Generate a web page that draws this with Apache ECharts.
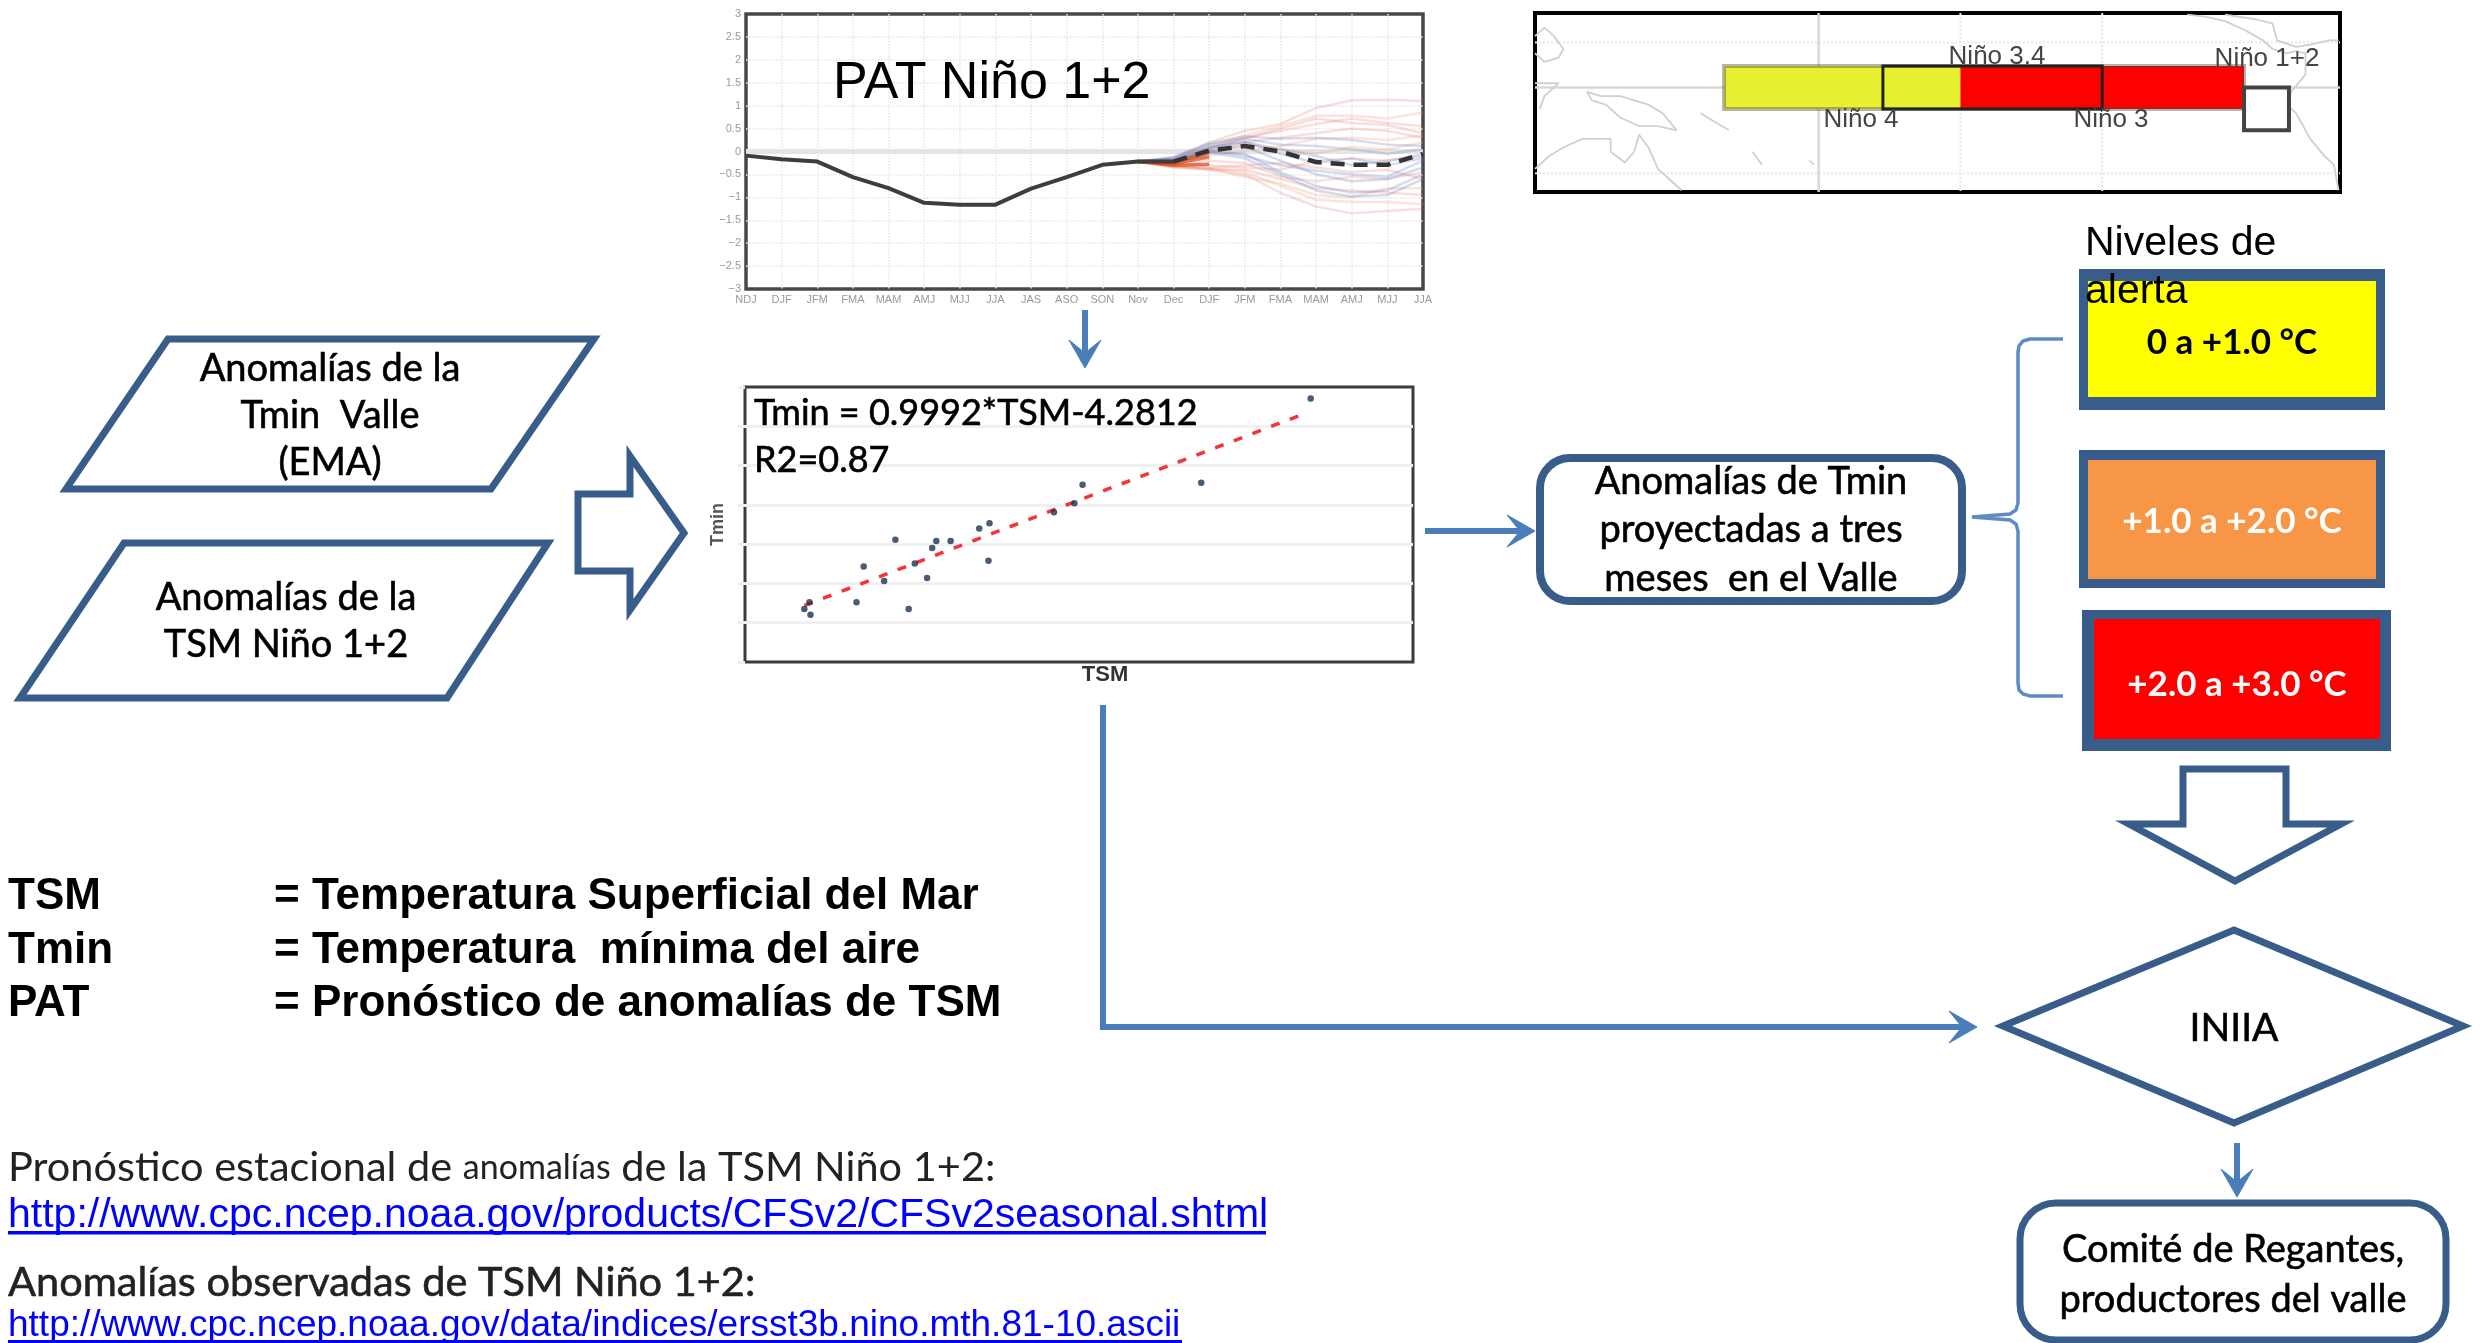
<!DOCTYPE html>
<html>
<head>
<meta charset="utf-8">
<style>html,body{margin:0;padding:0;background:#fff}#c{width:2484px;height:1343px}</style>
<script src="https://cdn.jsdelivr.net/npm/echarts@6/dist/echarts.min.js"></script>
</head>
<body>
<div id="c"></div>
<script>
// --- PAT Niño 1+2 panel ---
const seasons = ['NDJ','DJF','JFM','FMA','MAM','AMJ','MJJ','JJA','JAS','ASO','SON','Nov','Dec','DJF','JFM','FMA','MAM','AMJ','MJJ','JJA'];
const observed = [-0.09,-0.17,-0.22,-0.56,-0.8,-1.12,-1.16,-1.16,-0.81,-0.56,-0.29,-0.22,-0.22];
const forecastMean = [-0.22,0.02,0.12,0,-0.23,-0.29,-0.29,-0.05];
const ensembleRed = [
 [-0.22,-0.15,0.2,0.45,0.6,0.95,1.12,1.13,1.1],
 [-0.22,-0.18,0.12,0.35,0.55,0.78,0.78,0.72,0.85],
 [-0.22,-0.2,0.08,0.3,0.45,0.6,0.72,0.62,0.55],
 [-0.22,-0.25,-0.05,0.2,0.3,0.4,0.5,0.45,0.3],
 [-0.22,-0.27,-0.1,0.02,0.12,0.28,0.3,0.25,0.35],
 [-0.22,-0.3,-0.3,-0.35,-0.4,-0.2,-0.15,-0.2,-0.05],
 [-0.22,-0.32,-0.4,-0.4,-0.6,-0.8,-0.85,-0.9,-0.95],
 [-0.22,-0.3,-0.35,-0.45,-0.75,-1.05,-1.1,-1.1,-1.15],
 [-0.22,-0.35,-0.38,-0.5,-0.9,-1.2,-1.35,-1.3,-1.25],
 [-0.22,-0.22,0.05,0.28,0.5,0.72,0.62,0.58,0.4],
 [-0.22,-0.24,0,0.15,0.05,-0.05,0.1,0.05,0.2],
 [-0.22,-0.28,-0.2,-0.25,-0.55,-0.65,-0.55,-0.6,-0.45],
 [-0.22,-0.32,-0.36,-0.3,-0.25,-0.35,-0.45,-0.4,-0.6],
 [-0.22,-0.34,-0.38,-0.55,-0.7,-0.95,-1.0,-0.8,-0.8]
];
const ensembleBlue = [
 [-0.22,-0.12,0.18,0.33,0.28,0.3,0.25,0.15,0.12],
 [-0.22,-0.15,0.1,0.2,0.05,-0.1,-0.3,-0.2,-0.1],
 [-0.22,-0.18,0.05,0.1,-0.2,-0.5,-0.65,-0.6,-0.35],
 [-0.22,-0.2,0,-0.05,-0.45,-0.75,-0.9,-0.85,-0.5],
 [-0.22,-0.22,0.02,-0.1,-0.3,-0.42,-0.5,-0.55,-0.2],
 [-0.22,-0.14,0.15,0.28,0.15,0.12,0.05,-0.05,0.05],
 [-0.22,-0.2,0.08,0.22,-0.05,-0.25,-0.15,-0.3,-0.15],
 [-0.22,-0.25,-0.02,-0.15,-0.5,-0.85,-0.98,-0.95,-0.6]
];
const ensembleEarly = [[-0.22,-0.26,-0.12],[-0.22,-0.3,-0.28],[-0.22,-0.23,-0.03]];
// --- Regression panel ---
const tsmValues  = [7.67,6.60,5.44,5.36,5.16,4.53,4.43,4.15,4.01,3.97,3.61,3.80,4.52,3.30,3.92,3.50,3.23,3.74,2.77,2.72,2.78];
const tminValues = [3.71,1.56,1.51,1.04,0.81,0.53,0.40,0.08,0.08,-0.10,0.11,-0.49,-0.42,-0.57,-0.86,-0.94,-1.48,-1.65,-1.48,-1.65,-1.80];
const fitSlope = 0.9992, fitIntercept = -4.2812, fitRange = [2.72,7.6];
// --- Niño regions map ---
const regionBounds = [[160,210,5,-5],[210,270,5,-5],[160,270,5,-5],[193.6,240,5,-5],[270,279.5,0,-10]];
const regionLabels = ['Niño 4','Niño 3','','Niño 3.4','Niño 1+2'];
const coastlines = [
 [[120,-19],[123,-16],[126,-14],[130,-12],[132,-12],[136,-12],[136,-15],[139,-17.5],[141,-15],[142,-11],[144,-14],[146,-19],[149,-22],[151,-24]],
 [[131,-1],[134,-2],[138,-2],[144,-4],[147,-6],[150,-10],[146,-9],[142,-9],[138,-7],[135,-4],[132,-3],[131,-1]],
 [[120,8],[122,6],[125,7],[126,9],[124,12],[122,14],[120,12]],
 [[120,1],[123,1],[125,1],[122,-2],[121,-5]],
 [[155,-6],[158,-8],[161,-10]],[[166,-15],[168,-18]],[[178,-17],[179,-18]],
 [[258,17],[262,16.5],[266,15.5],[270,13.5],[274,11],[276,9],[279,8],[281,8.5],[283,8],[283,3],[280,-1],[279,-4],[281,-6],[284,-12],[287,-16],[289,-18],[290,-24]],
 [[266,17],[272,16],[276,15],[277,11],[281,9.5],[284,10],[288,11],[290,11]]
];
const mapGuides = [[[180,17.4],[180,-24.4]],[[120,0],[290.3,0]]];
const mapDotted = [[[120,10.5],[290.3,10.5]],[[120,-20],[290.3,-20]],[[210,17.4],[210,-24.4]],[[240,17.4],[240,-24.4]]];
// --- Texts ---
const levels = ['0 a +1.0 °C','+1.0 a +2.0 °C','+2.0 a +3.0 °C'];
const glossaryTerms = ['TSM','Tmin','PAT'];
const glossaryMeanings = ['= Temperatura Superficial del Mar','= Temperatura  mínima del aire','= Pronóstico de anomalías de TSM'];
const link1 = 'http://www.cpc.ncep.noaa.gov/products/CFSv2/CFSv2seasonal.shtml';
const link2 = 'http://www.cpc.ncep.noaa.gov/data/indices/ersst3b.nino.mth.81-10.ascii';

const BLUE='#385d8a', ARROW='#4a7ebb', CAL='Lato', ARIAL='"Liberation Sans"';
const g=[];
const T=(x,y,text,fontSize,o={})=>{const f=o.color||'#000';const st={text,fontSize,fontFamily:o.family||CAL,fontWeight:o.weight||'normal',fill:f,align:o.align||'center',verticalAlign:'middle'};
  if(!o.family&&!o.weight){st.stroke=f;st.lineWidth=0.6;}
  g.push({type:'text',x,y,z:20,style:st});};
const poly=(pts,fill,stroke,w)=>g.push({type:'polygon',z:5,shape:{points:pts},style:{fill:fill||'#fff',stroke:stroke||BLUE,lineWidth:w||7,lineJoin:'miter'}});
const rect=(x0,y0,x1,y1,fill,r)=>g.push({type:'rect',z:5,shape:{x:x0,y:y0,width:x1-x0,height:y1-y0,r:r||0},style:{fill}});
const arrow=(x1,y1,x2,y2)=>{
  const dx=Math.sign(x2-x1),dy=Math.sign(y2-y1),L=28,W=16,N=15;
  g.push({type:'line',z:6,shape:{x1,y1,x2:x2-dx*N,y2:y2-dy*N},style:{stroke:ARROW,lineWidth:6}});
  poly([[x2,y2],[x2-dx*L-dy*W,y2-dy*L-dx*W],[x2-dx*N,y2-dy*N],[x2-dx*L+dy*W,y2-dy*L+dx*W]],ARROW,ARROW,1);
};
// parallelograms + big arrows
poly([[168,339],[594,339],[491,489],[66,489]]);
poly([[124,543],[548,543],[447,698],[20,698]]);
poly([[578,494],[630,494],[630,456],[684,533],[630,610],[630,571],[578,571]]);
poly([[2183,769],[2286,769],[2286,824],[2341,824],[2235,881],[2129,824],[2183,824]]);
T(330,369,'Anomalías de la',38);T(330,416,'Tmin  Valle',38);T(330,463,'(EMA)',38);
T(286,598,'Anomalías de la',38);T(286,645,'TSM Niño 1+2',38);
// title over plot
T(833,84,'PAT Niño 1+2',52,{align:'left',family:ARIAL});
T(754,413,'Tmin = 0.9992*TSM-4.2812',36,{align:'left'});
T(754,460,'R2=0.87',36,{align:'left'});
T(1105,675,'TSM',22,{family:ARIAL,weight:'bold',color:'#333'});
// arrows
arrow(1085,310,1085,368);
arrow(1425,531,1535,531);
arrow(2237,1143,2237,1197);
g.push({type:'polyline',z:6,shape:{points:[[1103,705],[1103,1027],[1960,1027]]},style:{stroke:ARROW,lineWidth:6,fill:'none'}});
arrow(1945,1027,1977,1027);
// central rounded box
g.push({type:'rect',z:5,shape:{x:1540,y:458,width:422,height:143,r:30},style:{fill:'#fff',stroke:BLUE,lineWidth:8}});
T(1751,482,'Anomalías de Tmin',38);T(1751,530,'proyectadas a tres',38);T(1751,579,'meses  en el Valle',38);
// brace
g.push({type:'polyline',z:5,shape:{points:[[2063,339],[2030,339],[2023,341],[2019,346],[2018,352],[2018,503],[2016,510],[2010,514],[1972,517],[2010,520],[2016,524],[2018,531],[2018,683],[2019,690],[2023,694],[2030,696],[2063,696]]},style:{fill:'none',stroke:'#5f8bc4',lineWidth:3.5}});
// level boxes
const levelBoxes=[[2079,269,2385,410,2088,281,2376,397,'#ffff00','#000',343],[2079,450,2385,588,2088,460,2376,579,'#f79646','#fff',522],[2082,610,2391,751,2094,619,2380,739,'#ff0000','#fff',685]];
levelBoxes.forEach((b,i)=>{rect(b[0],b[1],b[2],b[3],BLUE);rect(b[4],b[5],b[6],b[7],b[8]);T((b[4]+b[6])/2,b[10],levels[i],35,{weight:'bold',color:b[9]});});
T(2085,244,'Niveles de',41,{align:'left',family:ARIAL});
T(2085,292,'alerta',41,{align:'left',family:ARIAL});
// diamond
poly([[2234,930],[2463,1026],[2234,1123],[2003,1026]],'#fff',BLUE,7);
T(2234,1028,'INIIA',39);
// bottom box
g.push({type:'rect',z:5,shape:{x:2020,y:1203,width:426,height:137,r:36},style:{fill:'#fff',stroke:BLUE,lineWidth:7}});
T(2233,1250,'Comité de Regantes,',38);T(2233,1300,'productores del valle',38);
// glossary
glossaryTerms.forEach((t,i)=>{const y=[897,951,1004][i];T(8,y,t,44,{align:'left',family:ARIAL,weight:'bold'});T(274,y,glossaryMeanings[i],44,{align:'left',family:ARIAL,weight:'bold'});});
// sources
g.push({type:'text',x:8,y:1168,z:20,style:{text:'{a|Pronóstico estacional de }{b|anomalías}{a| de la TSM Niño 1+2:}',verticalAlign:'middle',align:'left',rich:{a:{fontSize:41.5,fontFamily:CAL,fill:'#222'},b:{fontSize:34,fontFamily:CAL,fill:'#222'}}}});
T(8,1216,link1,41,{align:'left',family:ARIAL,color:'#0000ff'});
g.push({type:'rect',z:20,shape:{x:8,y:1231,width:1258,height:3.5},style:{fill:'#0000ff'}});
T(8,1283,'Anomalías observadas de TSM Niño 1+2:',41.5,{align:'left',color:'#222'});
T(8,1326,link2,37,{align:'left',family:ARIAL,color:'#0000ff'});
g.push({type:'rect',z:20,shape:{x:8,y:1340,width:1174,height:3},style:{fill:'#0000ff'}});
// map labels
T(1997,57,'Niño 3.4',26,{family:ARIAL,color:'#444'});
T(2267,59,'Niño 1+2',26,{family:ARIAL,color:'#444'});
T(1861,120,regionLabels[0],26,{family:ARIAL,color:'#444'});
T(2111,120,regionLabels[1],26,{family:ARIAL,color:'#444'});

const pad=(arr,n)=>Array(n).fill(null).concat(arr);
const series=[];
const lineS=(data,color,width,extra={})=>series.push(Object.assign({type:'line',xAxisIndex:0,yAxisIndex:0,data,symbol:'none',silent:true,lineStyle:{color,width},connectNulls:false},extra));
const zeroRef=seasons.map(()=>0);
lineS(zeroRef,'#e4e4e4',5);
const redTones=['rgba(230,120,110,.24)','rgba(240,150,110,.26)','rgba(225,100,100,.2)'];
ensembleRed.forEach((a,i)=>lineS(pad(a,11),redTones[i%3],2.5));
ensembleBlue.forEach(a=>lineS(pad(a,11),'rgba(90,120,190,.26)',2.5));
ensembleEarly.forEach(a=>lineS(pad(a,11),'rgba(215,70,20,.7)',3.5));
lineS(observed,'#3d3d3d',4);
lineS(pad(forecastMean,12),'#333',4.5,{lineStyle:{color:'#333',width:4.5,type:[14,9]}});
// scatter
series.push({type:'line',xAxisIndex:1,yAxisIndex:1,symbol:'none',silent:true,z:3,data:fitRange.map(x=>[x,fitSlope*x+fitIntercept]),lineStyle:{color:'#f6323a',width:3.5,type:[9,11]}});
series.push({type:'scatter',xAxisIndex:1,yAxisIndex:1,silent:true,z:4,symbol:'circle',symbolSize:6.5,itemStyle:{color:'#1c3350'},data:tsmValues.map((x,i)=>[x,tminValues[i]])});
// map
mapDotted.forEach(d=>series.push({type:'line',xAxisIndex:2,yAxisIndex:2,symbol:'none',silent:true,data:d,lineStyle:{color:'#e8e8e8',width:2,type:'dotted'}}));
mapGuides.forEach(d=>series.push({type:'line',xAxisIndex:2,yAxisIndex:2,symbol:'none',silent:true,data:d,lineStyle:{color:'#d8d8d8',width:2.5}}));
coastlines.forEach(d=>series.push({type:'line',xAxisIndex:2,yAxisIndex:2,symbol:'none',silent:true,data:d,lineStyle:{color:'#d0d0d0',width:1.8}}));
const regionStyles=[{fill:'#e8f032'},{fill:'#ff0000'},{fill:'none',stroke:'rgba(70,70,50,.4)',lineWidth:4},{fill:'none',stroke:'#222',lineWidth:3},{fill:'#fff',stroke:'#444',lineWidth:4}];
series.push({type:'custom',xAxisIndex:2,yAxisIndex:2,silent:true,z:5,data:regionBounds,
  renderItem:(p,api)=>{const a=api.coord([api.value(0),api.value(2)]),b=api.coord([api.value(1),api.value(3)]);
    return {type:'rect',shape:{x:a[0],y:a[1],width:b[0]-a[0],height:b[1]-a[1]},style:regionStyles[p.dataIndex]};}});

const chart=echarts.init(document.getElementById('c'),null,{renderer:'canvas',width:2484,height:1343});
chart.setOption({
  animation:false,backgroundColor:'#fff',
  grid:[
   {left:746,top:14,width:677,height:275,show:true,borderColor:'#484848',borderWidth:3.5,backgroundColor:'#fff'},
   {left:745,top:387,width:668,height:275,show:true,borderColor:'#3c3c3c',borderWidth:3,backgroundColor:'#fff'},
   {left:1535,top:13,width:805,height:179,show:true,borderColor:'#000',borderWidth:4,backgroundColor:'#fff'}
  ],
  xAxis:[
   {gridIndex:0,type:'category',data:seasons,boundaryGap:false,axisLine:{show:false},axisTick:{show:false},
    axisLabel:{fontSize:11,color:'#999',margin:5,interval:0,fontFamily:ARIAL},splitLine:{show:true,interval:0,showMinLine:false,showMaxLine:false,lineStyle:{color:'#e6e6e6',type:'dotted',width:1.5}}},
   {gridIndex:1,type:'value',min:2.14,max:8.67,axisLabel:{show:false},axisTick:{show:false},axisLine:{show:false},splitLine:{show:false}},
   {gridIndex:2,type:'value',min:120,max:290.3,show:false,splitLine:{show:false}}
  ],
  yAxis:[
   {gridIndex:0,type:'value',min:-3,max:3,interval:0.5,axisLine:{show:false},axisTick:{show:false},
    axisLabel:{fontSize:11,color:'#999',margin:5,fontFamily:ARIAL,formatter:v=>String(v).replace('-','−')},splitLine:{showMinLine:false,showMaxLine:false,lineStyle:{color:'#e6e6e6',type:'dotted',width:1.5}}},
   {gridIndex:1,type:'value',min:-3,max:4,interval:1,axisLabel:{show:false},axisTick:{show:true,length:7,lineStyle:{color:'#eee',width:3}},axisLine:{show:false},
    splitLine:{showMinLine:false,showMaxLine:false,lineStyle:{color:'#f0f0f0',width:3}},name:'Tmin',nameLocation:'middle',nameGap:18,nameRotate:90,nameTextStyle:{fontSize:18,fontWeight:'bold',color:'#555',fontFamily:ARIAL}},
   {gridIndex:2,type:'value',min:-24.4,max:17.4,show:false,splitLine:{show:false}}
  ],
  series,
  graphic:{elements:g}
});
</script>
</body>
</html>
